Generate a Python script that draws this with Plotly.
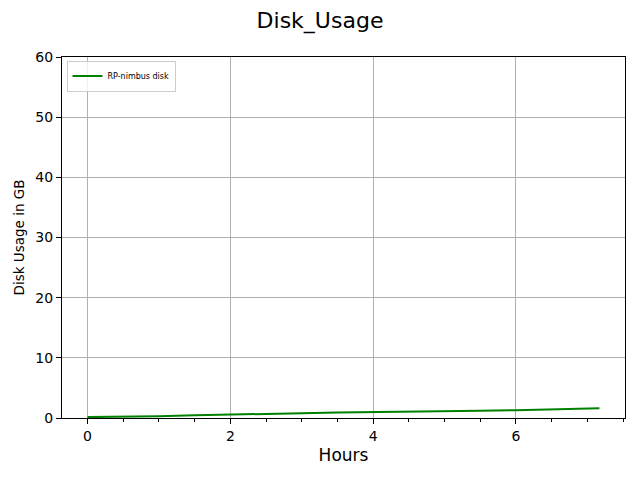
import plotly.graph_objects as go

hours = [0.0, 0.5, 1.0, 1.5, 2.0, 2.5, 3.0, 3.5, 4.0, 4.5, 5.0, 5.5, 6.0, 6.5, 7.17]
disk_gb = [0.15, 0.2, 0.3, 0.45, 0.6, 0.7, 0.8, 0.9, 0.95, 1.05, 1.1, 1.2, 1.3, 1.45, 1.6]
series_name = "RP-nimbus disk"
x_ticks = [0, 2, 4, 6]
y_ticks = [0, 10, 20, 30, 40, 50, 60]

fig = go.Figure()
fig.add_trace(go.Scatter(x=hours, y=disk_gb, mode="lines", name=series_name,
                         line=dict(color="#008000", width=2)))

font = "DejaVu Sans, sans-serif"
fig.update_layout(
    width=632, height=472,
    paper_bgcolor="white", plot_bgcolor="white",
    margin=dict(l=54, r=15, t=49, b=62),
    title=dict(text="Disk_Usage", x=0.4937, xanchor="center", y=0.9746, yanchor="middle",
               font=dict(family=font, size=22, color="black")),
    font=dict(family=font, color="black"),
    showlegend=True,
    legend=dict(x=0.008, y=0.99, xanchor="left", yanchor="top",
                bordercolor="#cccccc", borderwidth=1, bgcolor="rgba(255,255,255,0.8)",
                font=dict(family=font, size=8, color="black"),
                itemwidth=30, tracegroupgap=0),
)
fig.update_xaxes(
    range=[-0.358, 7.528], tickvals=x_ticks, ticks="outside", ticklen=5, tickwidth=1,
    tickcolor="black", showline=True, linecolor="black", linewidth=1, mirror=True,
    showgrid=True, gridcolor="#b0b0b0", gridwidth=0.8, zeroline=False,
    tickfont=dict(family=font, size=14, color="black"),
    title=dict(text="Hours", font=dict(family=font, size=17, color="black"), standoff=6),
    minor=dict(dtick=0.5, tick0=0, ticks="outside", ticklen=3, tickcolor="black", showgrid=False),
)
fig.update_yaxes(
    range=[0, 60], tickvals=y_ticks, ticks="outside", ticklen=5, tickwidth=1,
    tickcolor="black", showline=True, linecolor="black", linewidth=1, mirror=True,
    showgrid=True, gridcolor="#b0b0b0", gridwidth=0.8, zeroline=False,
    tickfont=dict(family=font, size=14, color="black"),
    title=dict(text="Disk Usage in GB", font=dict(family=font, size=13.5, color="black"), standoff=7),
)
fig.write_html("out.html")
